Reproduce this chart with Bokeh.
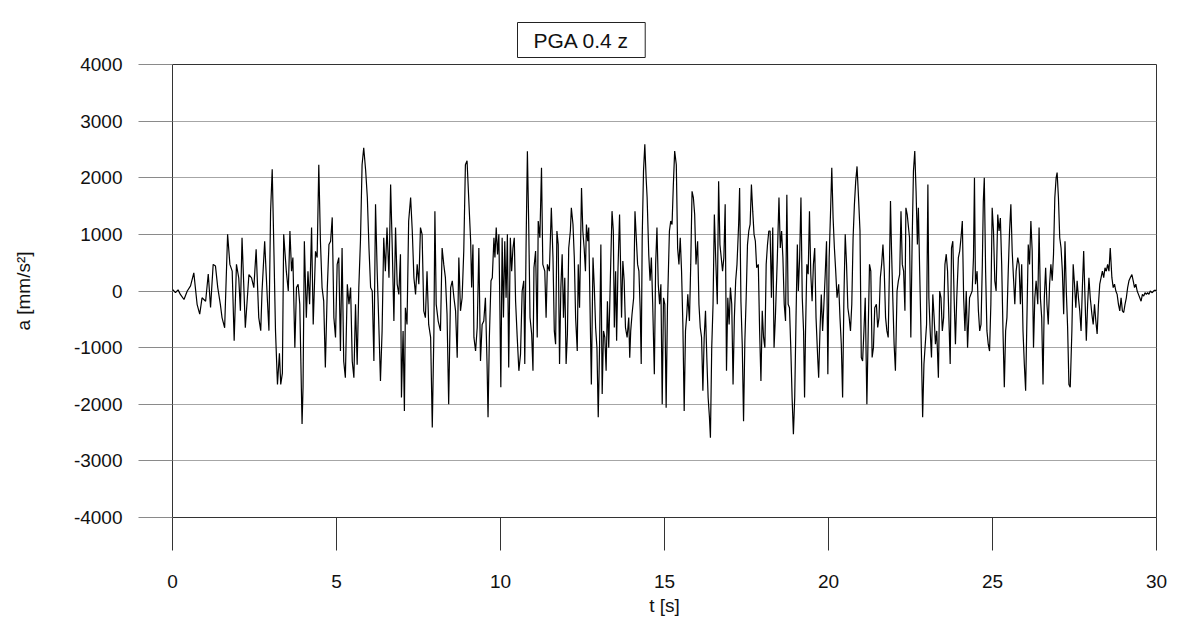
from bokeh.plotting import figure
from bokeh.models import Range1d, FixedTicker, Title
from bokeh.embed import file_html
from bokeh.resources import INLINE

# Acceleration record: (t [s], a [mm/s^2]) per 3-second segment
seg_00_03 = [(0.00, 30), (0.09, -30), (0.17, 20), (0.24, -60), (0.35, -150), (0.45, 0), (0.55, 90),
             (0.65, 320), (0.75, -235), (0.83, -410), (0.90, -120), (1.01, -180), (1.09, 300),
             (1.16, -290), (1.24, 470), (1.31, 440), (1.38, 60), (1.46, -240), (1.51, -470),
             (1.59, -650), (1.68, 1000), (1.75, 470), (1.82, 350), (1.88, -880), (1.95, 470),
             (2.02, 230), (2.07, -350), (2.12, 940), (2.22, -650), (2.33, 290), (2.41, 230),
             (2.48, 60), (2.55, 735), (2.63, -470), (2.69, -700), (2.73, 0), (2.81, 880),
             (2.89, -120), (2.94, -700)]
seg_03_06 = [(2.99, 1400), (3.04, 2150), (3.09, 760), (3.14, -700), (3.20, -1650), (3.26, -1100),
             (3.30, -1650), (3.35, -1450), (3.39, 1000), (3.47, 350), (3.53, 0), (3.58, 1060),
             (3.63, 350), (3.67, 590), (3.73, -1000), (3.78, 60), (3.83, 120), (3.88, -235),
             (3.95, -2350), (3.98, -1700), (4.02, 880), (4.08, -470), (4.13, 350), (4.18, -235),
             (4.24, 1120), (4.29, -590), (4.36, 700), (4.41, 590), (4.46, 2230), (4.51, 880),
             (4.56, 60), (4.61, -180), (4.66, -1350), (4.72, 60), (4.77, 820), (4.82, 880),
             (4.87, 1300), (4.92, -470), (4.97, -820), (5.02, 470), (5.07, 590), (5.12, -1060),
             (5.17, 760), (5.22, -1240), (5.27, -1530), (5.33, 120), (5.38, -235), (5.43, 60),
             (5.48, -1240), (5.53, -1530), (5.58, -235), (5.63, -1300), (5.68, 60), (5.73, 880),
             (5.78, 2230), (5.83, 2530), (5.89, 2120)]
seg_06_09 = [(5.94, 1650), (5.99, 760), (6.04, 60), (6.09, 0), (6.14, -1235), (6.19, 1530),
             (6.24, 350), (6.29, -590), (6.34, -1590), (6.39, -705), (6.44, 940), (6.49, 350),
             (6.54, 1120), (6.60, 235), (6.65, 1880), (6.70, 760), (6.75, -530), (6.80, 1120),
             (6.85, 120), (6.90, -60), (6.95, 650), (6.98, -1880), (7.03, -705), (7.07, -2120),
             (7.10, -295), (7.15, -590), (7.20, 1235), (7.26, 1650), (7.31, 1060), (7.36, 235),
             (7.41, -60), (7.46, 470), (7.51, 120), (7.56, 1120), (7.61, 1000), (7.66, -350),
             (7.71, -470), (7.76, 350), (7.81, -590), (7.87, -820), (7.92, -2410), (7.97, -705),
             (8.00, 1410), (8.04, -235), (8.10, -530), (8.17, -705), (8.22, 760), (8.27, 470),
             (8.32, 235), (8.37, -410), (8.42, -2000), (8.48, 60), (8.53, 180), (8.58, -120),
             (8.63, -350), (8.68, -1180), (8.73, 590), (8.78, -350), (8.83, -120), (8.88, 705),
             (8.93, 2230), (8.98, 2300)]
seg_09_12 = [(9.03, 1650), (9.09, 880), (9.12, 60), (9.16, 820), (9.19, -820), (9.24, -1060),
             (9.29, -645), (9.34, 760), (9.39, -1235), (9.44, -590), (9.49, -530), (9.54, -120),
             (9.59, -1290), (9.62, -2230), (9.66, -820), (9.71, 180), (9.75, 235), (9.80, 940),
             (9.83, 590), (9.87, 1120), (9.91, 645), (9.95, 1000), (9.98, -235), (10.01, -1700),
             (10.05, 940), (10.09, -470), (10.13, 880), (10.17, -120), (10.21, 1000), (10.25, -1350),
             (10.30, 940), (10.34, 350), (10.38, 760), (10.42, 940), (10.46, -180), (10.51, -820),
             (10.56, -1410), (10.61, -1120), (10.66, 0), (10.71, 180), (10.74, -1290), (10.78, 820),
             (10.82, 2470), (10.86, 1180), (10.90, -470), (10.95, -760), (10.99, -1410), (11.02, 410),
             (11.07, 705), (11.12, -820), (11.15, 1235), (11.20, 940), (11.25, 2175), (11.29, 470),
             (11.35, 350), (11.39, -470), (11.43, 470), (11.49, 350), (11.55, 1470), (11.60, 590),
             (11.64, -705), (11.68, -940), (11.72, 1060), (11.76, 820), (11.80, -1290), (11.84, 60),
             (11.88, 650), (11.92, -470), (11.96, 235), (12.00, -1290), (12.04, -760)]
seg_12_15 = [(12.08, 760), (12.13, 1060), (12.16, 1470), (12.21, 1175), (12.25, 590), (12.29, -470),
             (12.34, -1060), (12.37, 470), (12.41, -295), (12.44, 760), (12.47, 1820), (12.51, 1060),
             (12.55, 760), (12.59, 350), (12.62, 1175), (12.66, 880), (12.69, 1120), (12.74, -645),
             (12.77, -1650), (12.82, 590), (12.86, 60), (12.90, -645), (12.94, -1000), (12.98, -2230),
             (13.02, -1000), (13.06, 820), (13.10, -1820), (13.14, -705), (13.18, -820), (13.22, -1410),
             (13.26, -180), (13.30, -1000), (13.35, 235), (13.40, 1410), (13.44, 1060), (13.47, -645),
             (13.51, 350), (13.54, -880), (13.58, 350), (13.63, 1350), (13.66, 470), (13.69, -470),
             (13.73, 530), (13.77, 180), (13.81, -645), (13.86, -820), (13.91, -470), (13.94, -1180),
             (13.97, -705), (14.01, -410), (14.06, -120), (14.10, 1410), (14.14, 940), (14.18, 470),
             (14.22, 350), (14.26, -350), (14.29, -1290), (14.32, 940), (14.36, 2120), (14.40, 2590),
             (14.44, 1990), (14.47, 1650), (14.52, 645), (14.56, 180), (14.60, 590), (14.64, -235),
             (14.69, -1470), (14.73, 470), (14.77, 1120), (14.81, 120), (14.85, -235), (14.89, 120),
             (14.93, -2000), (14.97, -120), (15.01, -235), (15.05, -2060), (15.09, -295)]
seg_15_18 = [(15.15, 1060), (15.19, 1235), (15.23, 1175), (15.27, 1880), (15.31, 2470), (15.36, 2230),
             (15.40, 760), (15.44, 470), (15.48, 940), (15.52, 350), (15.56, -590), (15.60, -2120),
             (15.64, -705), (15.68, -410), (15.71, -60), (15.76, -530), (15.80, 470), (15.84, 1760),
             (15.88, 1650), (15.92, 1350), (15.96, 470), (16.01, 880), (16.05, -235), (16.09, -645),
             (16.13, -820), (16.17, -1760), (16.21, -820), (16.25, -350), (16.29, -1175), (16.33, -1880),
             (16.37, -2230), (16.40, -2590), (16.44, -1000), (16.48, -235), (16.52, 1350), (16.56, 590),
             (16.61, -235), (16.65, 1940), (16.69, 820), (16.73, 590), (16.77, 350), (16.81, 590),
             (16.85, 1530), (16.89, -1410), (16.93, -120), (16.97, -590), (17.01, 60), (17.05, -235),
             (17.09, -1650), (17.13, -470), (17.17, 180), (17.21, 470), (17.26, 1175), (17.29, 1820),
             (17.33, -180), (17.37, -940), (17.41, -2300), (17.45, -880), (17.49, -120), (17.53, 820),
             (17.57, 1060), (17.61, 1175), (17.65, 1880), (17.69, 1410), (17.73, 1000), (17.77, 880),
             (17.81, 410), (17.86, 470), (17.90, -705), (17.94, -1590), (17.98, -350), (18.02, -820),
             (18.06, -1000), (18.10, 470), (18.14, 820), (18.18, 1060)]
seg_18_21 = [(18.22, 1060), (18.26, -120), (18.30, 1120), (18.34, -1000), (18.38, -470), (18.44, 590),
             (18.49, 1650), (18.53, 760), (18.57, 1060), (18.61, 590), (18.65, -235), (18.69, -530),
             (18.73, 1700), (18.77, -235), (18.81, -295), (18.85, -1000), (18.89, -1880), (18.93, -2530),
             (18.97, -1880), (19.01, -470), (19.05, 820), (19.08, 0), (19.12, 590), (19.16, 1650),
             (19.20, -120), (19.24, -705), (19.27, -1880), (19.30, -705), (19.34, 470), (19.38, 295),
             (19.42, 1410), (19.46, 295), (19.50, -180), (19.54, 470), (19.58, 760), (19.62, -470),
             (19.67, -1175), (19.70, -1530), (19.74, -705), (19.78, -60), (19.82, -705), (19.86, -235),
             (19.90, 295), (19.94, 880), (19.98, -1470), (20.02, 590), (20.06, 1350), (20.10, 2175),
             (20.14, 1290), (20.18, 760), (20.22, 350), (20.26, -120), (20.31, 120), (20.35, -470),
             (20.39, -940), (20.43, -1880), (20.47, -120), (20.51, 1000), (20.55, 470), (20.59, -295),
             (20.63, -470), (20.67, -705), (20.71, -235), (20.75, 940), (20.79, 1530), (20.83, 1940),
             (20.87, 2200), (20.92, 1590), (20.96, 1060), (21.00, -1175), (21.04, -1235), (21.08, -705),
             (21.12, -120), (21.17, -2000)]
seg_21_24 = [(21.21, -705), (21.25, 470), (21.29, 350), (21.33, -1175), (21.37, -1000), (21.41, -295),
             (21.46, -235), (21.50, -645), (21.54, -470), (21.58, 235), (21.62, 470), (21.66, 820),
             (21.70, 350), (21.74, -470), (21.78, -705), (21.82, -820), (21.86, 470), (21.89, 1590),
             (21.92, 760), (21.96, -120), (22.00, -940), (22.04, -1410), (22.09, 0), (22.13, 180),
             (22.17, 295), (22.21, 1410), (22.25, 470), (22.29, 350), (22.33, -350), (22.36, 1470),
             (22.40, 1350), (22.43, 1175), (22.47, 940), (22.51, -820), (22.55, 880), (22.59, 2120),
             (22.63, 2470), (22.67, 1760), (22.71, 820), (22.74, 1470), (22.78, 350), (22.81, -470),
             (22.84, -1290), (22.87, -2230), (22.91, -1290), (22.95, -940), (22.99, -590), (23.03, 1880),
             (23.06, -120), (23.10, -705), (23.14, -1175), (23.18, -60), (23.22, -470), (23.26, -940),
             (23.30, -705), (23.35, -1530), (23.39, 0), (23.43, -120), (23.47, -705), (23.51, -470),
             (23.55, 470), (23.59, 650), (23.63, 350), (23.67, -470), (23.71, -1290), (23.75, 760),
             (23.79, 880), (23.83, -120), (23.87, -940), (23.91, -120), (23.96, 590), (24.00, 705),
             (24.04, 940), (24.08, 1235), (24.12, -120), (24.16, -705), (24.20, 0), (24.24, -1000)]
seg_24_27 = [(24.30, -120), (24.34, -60), (24.38, 0), (24.42, 590), (24.45, 2000), (24.48, 120),
             (24.53, 350), (24.57, -350), (24.61, -705), (24.65, -590), (24.69, 470), (24.72, 1590),
             (24.75, 2000), (24.79, 350), (24.83, -705), (24.87, -940), (24.91, -1060), (24.95, -235),
             (24.99, 1470), (25.03, 1060), (25.07, 180), (25.11, 0), (25.16, 1350), (25.20, 1060),
             (25.24, 1290), (25.28, 470), (25.32, -705), (25.36, -1700), (25.40, -705), (25.44, -470),
             (25.48, 350), (25.52, 1060), (25.56, 1530), (25.60, 705), (25.64, 235), (25.68, -235),
             (25.72, 350), (25.77, 590), (25.81, 470), (25.85, -235), (25.89, 470), (25.93, -705),
             (25.97, -1290), (26.01, -1760), (26.05, -470), (26.09, 820), (26.13, 470), (26.17, 1235),
             (26.21, 705), (26.25, -1000), (26.29, -120), (26.33, 180), (26.38, -235), (26.42, 1120),
             (26.46, -120), (26.50, -470), (26.54, -1650), (26.58, -120), (26.62, 410), (26.66, -235),
             (26.70, -590), (26.74, 120), (26.78, 470), (26.82, 180), (26.86, 645), (26.90, 1650),
             (26.94, 2000), (26.97, 2090), (27.01, 1650), (27.05, 940), (27.09, 760), (27.13, 350),
             (27.17, -410), (27.21, 880), (27.25, 0), (27.29, -645), (27.33, -1650)]
seg_27_30 = [(27.37, -1700), (27.42, -705), (27.46, 470), (27.50, 120), (27.54, -295), (27.58, 180),
             (27.62, -120), (27.66, -350), (27.70, -705), (27.74, 60), (27.78, 705), (27.82, -120),
             (27.86, -880), (27.90, -235), (27.94, 235), (27.98, -120), (28.03, -410), (28.07, -590),
             (28.11, -235), (28.15, -530), (28.19, -760), (28.23, -235), (28.27, 120), (28.31, 235),
             (28.35, 350), (28.39, 235), (28.43, 410), (28.47, 350), (28.51, 470), (28.55, 350),
             (28.59, 760), (28.64, 235), (28.68, 60), (28.72, 120), (28.76, 0), (28.80, -60),
             (28.84, -235), (28.88, -350), (28.92, -120), (28.96, -350), (29.00, -380), (29.04, -235),
             (29.08, -120), (29.12, 60), (29.16, 180), (29.20, 235), (29.25, 290), (29.29, 180),
             (29.33, 60), (29.37, 120), (29.41, 0), (29.45, -60), (29.49, -120), (29.53, -180),
             (29.57, -60), (29.61, -90), (29.65, -30), (29.69, -60), (29.73, -30), (29.77, -60),
             (29.81, 0), (29.87, -30), (29.93, 10), (30.00, 10)]

segments = [seg_00_03, seg_03_06, seg_06_09, seg_09_12, seg_12_15,
            seg_15_18, seg_18_21, seg_21_24, seg_24_27, seg_27_30]

x_ticks = [0, 5, 10, 15, 20, 25, 30]
y_ticks = [-4000, -3000, -2000, -1000, 0, 1000, 2000, 3000, 4000]
y_tick_labels = ["-4000", "-3000", "-2000", "-1000", "0", "1000", "2000", "3000", "4000"]
title_text = "PGA 0.4 z"
x_label = "t [s]"
y_label = "a [mm/s\u00b2]"

t_vals = [pt[0] for seg in segments for pt in seg]
a_vals = [pt[1] for seg in segments for pt in seg]

FONT = "Liberation Sans"

p = figure(width=1179, height=633, output_backend="svg", toolbar_location=None,
           x_range=Range1d(0, 30), y_range=Range1d(-4000, 4000),
           min_border_left=172, min_border_right=23, min_border_top=64, min_border_bottom=116)
p.background_fill_color = "white"
p.border_fill_color = "white"
p.outline_line_color = "#333333"
p.outline_line_width = 1

p.line(t_vals, a_vals, line_color="black", line_width=1.2)

p.xgrid.visible = False
p.ygrid.ticker = FixedTicker(ticks=y_ticks)
p.ygrid.grid_line_color = "#a6a6a6"
p.ygrid.grid_line_width = 1

for ax in (p.xaxis[0], p.yaxis[0]):
    ax.major_label_text_font = FONT
    ax.major_label_text_font_size = "19px"
    ax.major_label_text_color = "#111111"
    ax.axis_label_text_font = FONT
    ax.axis_label_text_font_size = "19px"
    ax.axis_label_text_font_style = "normal"
    ax.axis_label_text_color = "#111111"
    ax.minor_tick_line_color = None
    ax.major_tick_in = 0
    ax.axis_line_color = "#333333"

p.xaxis.ticker = FixedTicker(ticks=x_ticks)
p.xaxis.major_tick_out = 33
p.xaxis.major_tick_line_color = "#333333"
p.xaxis.major_label_standoff = 24
p.xaxis.axis_label = x_label
p.xaxis.axis_label_standoff = 4

p.yaxis.ticker = FixedTicker(ticks=y_ticks)
p.yaxis.major_label_overrides = {v: s for v, s in zip(y_ticks, y_tick_labels)}
p.yaxis.major_tick_out = 34
p.yaxis.major_tick_line_color = "#8a8a8a"
p.yaxis.major_label_standoff = 16
p.yaxis.axis_label = y_label
p.yaxis.axis_label_standoff = 37

# thin empty spacer between the frame and the boxed title
spacer = Title(text=" ", text_font_size="4px", standoff=0, padding=0)
p.add_layout(spacer, "above")

title = Title(text=title_text, align="left", offset=345, standoff=0,
              text_font=FONT, text_font_size="21px", text_font_style="normal",
              text_color="#111111", border_line_color="#222222", border_line_width=1,
              background_fill_color="white", padding=(16, 6))
p.add_layout(title, "above")

open("out.html", "w").write(file_html(p, INLINE))
